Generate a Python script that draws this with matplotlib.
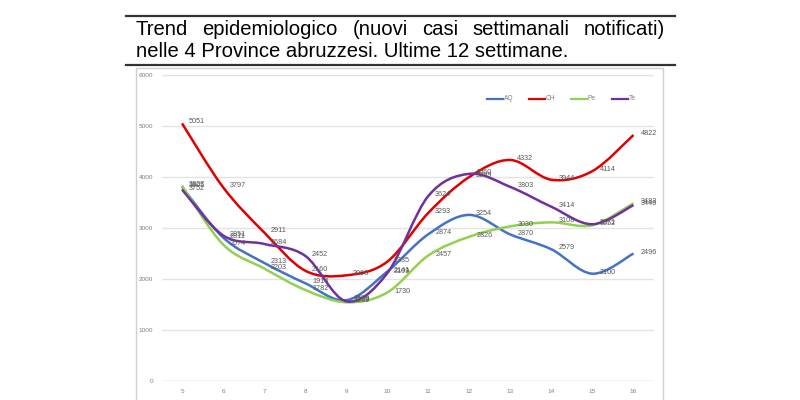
import numpy as np
import matplotlib
matplotlib.use("Agg")
import matplotlib.pyplot as plt
from matplotlib.path import Path
from matplotlib.patches import PathPatch, Rectangle
from matplotlib.lines import Line2D
from matplotlib import font_manager

# weekly new cases per province
weeks = [5, 6, 7, 8, 9, 10, 11, 12, 13, 14, 15, 16]
aq = [3805, 2811, 2313, 1914, 1579, 2141, 2874, 3254, 2870, 2579, 2100, 2496]
ch = [5051, 3797, 2911, 2160, 2068, 2335, 3293, 3999, 4332, 3944, 4114, 4822]
pe = [3827, 2674, 2203, 1782, 1539, 1730, 2457, 2826, 3030, 3108, 3052, 3483]
te = [3752, 2851, 2684, 2452, 1559, 2109, 3624, 4060, 3803, 3414, 3071, 3446]
names = ["AQ", "CH", "Pe", "Te"]
colors = ["#4472c4", "#e00000", "#92d050", "#7030a0"]
yticks = [0, 1000, 2000, 3000, 4000, 5000, 6000]

title1 = "Trend epidemiologico (nuovi casi settimanali notificati)"
title2 = "nelle 4 Province abruzzesi. Ultime 12 settimane."

W, H = 800, 400
fig = plt.figure(figsize=(8, 4), dpi=100)
fig.patch.set_facecolor("white")
plt.rcParams["font.family"] = ["Liberation Sans", "DejaVu Sans"]

# narrow face for the document heading if present
avail = {f.name for f in font_manager.fontManager.ttflist}
head_font = "Liberation Sans Narrow" if "Liberation Sans Narrow" in avail else "Liberation Sans"
head_size = 16.8 if head_font == "Liberation Sans Narrow" else 14.6

def fx(px):
    return px / W

def fy(py):
    return 1 - py / H

# document rules
for yy in (16, 65):
    fig.add_artist(Line2D([fx(126), fx(675)], [fy(yy), fy(yy)], color="#333333", lw=1.6))

# heading, second line first so its width can set the size
fig.canvas.draw()
r = fig.canvas.get_renderer()
t2 = fig.text(fx(136), fy(57), title2, fontsize=head_size, family=head_font,
              color="black", va="baseline")
w2 = t2.get_window_extent(r).width
head_size = head_size * 433 / w2
t2.set_fontsize(head_size)

# justified first line
words = title1.split()
txts = [fig.text(0, fy(35), w, fontsize=head_size, family=head_font, color="black",
                 va="baseline") for w in words]
widths = [t.get_window_extent(r).width for t in txts]
left, right = 136, 665
gap = (right - left - sum(widths)) / (len(words) - 1)
x = left
for t, wd in zip(txts, widths):
    t.set_x(fx(x))
    x += wd + gap

# chart frame
fig.add_artist(Rectangle((fx(136), fy(405)), fx(663) - fx(136), fy(68) - fy(405),
                         fill=False, ec="#d0d0d0", lw=1.0))

ax = fig.add_axes([fx(161.5), fy(380.7), fx(654) - fx(161.5), fy(75) - fy(380.7)])
pos = np.arange(len(weeks))
ax.set_xlim(-0.5, len(weeks) - 0.5)
ax.set_ylim(0, 6000)
ax.set_yticks(yticks)
ax.set_yticklabels([str(v) for v in yticks], fontsize=4.6, color="#7f7f7f")
ax.set_xticks(pos)
ax.set_xticklabels([str(w) for w in weeks], fontsize=4.6, color="#7f7f7f")
ax.tick_params(length=0, pad=6)
ax.grid(axis="y", color="#e3e3e3", lw=1.0)
ax.set_axisbelow(True)
for s in ax.spines.values():
    s.set_visible(False)
ax.axhline(0, color="#d9d9d9", lw=1.0)


def smooth_path(xs, ys):
    # excel style smoothed line as cubic bezier segments
    pts = np.column_stack([xs, ys]).astype(float)
    verts = [pts[0]]
    codes = [Path.MOVETO]
    n = len(pts)
    for i in range(n - 1):
        p0 = pts[max(i - 1, 0)]
        p1 = pts[i]
        p2 = pts[i + 1]
        p3 = pts[min(i + 2, n - 1)]
        c1 = p1 + (p2 - p0) / 6
        c2 = p2 - (p3 - p1) / 6
        verts += [c1, c2, p2]
        codes += [Path.CURVE4] * 3
    return Path(verts, codes)


series = [aq, ch, pe, te]
for vals, c in zip(series, colors):
    ax.add_patch(PathPatch(smooth_path(pos, vals), fill=False, ec=c, lw=1.8))
    for xi, v in zip(pos, vals):
        ax.annotate(str(v), (xi, v), xytext=(5, 1), textcoords="offset points",
                    fontsize=5.2, color="#595959", va="center", ha="left")

# legend
lx = [487, 529, 571, 612]
for x0, nm, c in zip(lx, names, colors):
    fig.add_artist(Line2D([fx(x0), fx(x0 + 16)], [fy(99), fy(99)], color=c, lw=1.6))
    fig.text(fx(x0 + 17), fy(99), nm, fontsize=4.8, color="#7f7f7f", va="center")

fig.savefig("out.png", dpi=100)
